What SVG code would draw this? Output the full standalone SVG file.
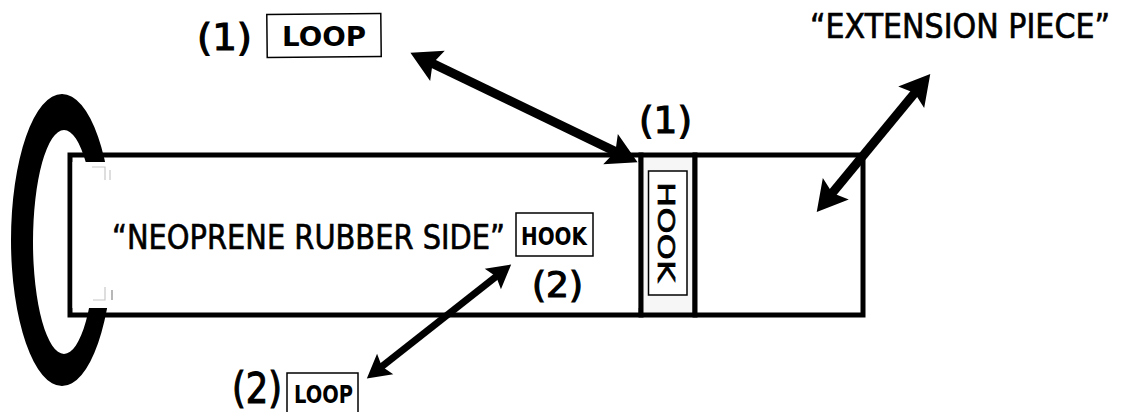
<svg xmlns="http://www.w3.org/2000/svg" width="1126" height="412" viewBox="0 0 1126 412">
<style>
.t{font-family:"DejaVu Sans","Liberation Sans",sans-serif;fill:#000}
.m{stroke:#000;stroke-width:0.7}
.h{stroke:#000;stroke-width:1.2}
.b{font-weight:bold}
.box{fill:#fff;stroke:#000;stroke-width:1.5}
.edge{fill:#fff;stroke:#000;stroke-width:5}
.arr{stroke:#000;fill:none;marker-start:url(#ah);marker-end:url(#ah)}
.faint{fill:none;stroke:#c8c8c8;stroke-width:1.2}
</style>
<defs>
<marker id="ah" markerUnits="strokeWidth" orient="auto-start-reverse" refX="0" refY="0" markerWidth="4" markerHeight="4" viewBox="-1 -1.5 3 3" overflow="visible">
<path d="M1.7,0 L-0.8,-1.4 L-0.35,0 L-0.8,1.4 Z" fill="#000"/>
</marker>
</defs>
<rect width="1126" height="412" fill="#fff"/>
<g id="strap">
<rect class="edge" x="70" y="155" width="571" height="160"/>
</g>
<g id="ring">
<path fill="#000" fill-rule="evenodd" d="M11,240 A51,146 0 1,0 113,240 A51,146 0 1,0 11,240 Z M33,242 A31,112 0 1,0 95,242 A31,112 0 1,0 33,242 Z"/>
<rect x="72.5" y="162" width="566" height="146" fill="#fff"/>
<path class="faint" d="M92,167 H105 V180 M110,170 V180 M105,287 V300 H93"/>
<path d="M112,290 V300" stroke="#888" stroke-width="1.2"/>
</g>
<g id="hook-strip">
<rect class="edge" x="641" y="155" width="54" height="160" style="fill:#f6f6f6"/>
<rect class="box" x="648.5" y="171" width="38.5" height="124"/>
<text class="t m" font-size="23" transform="translate(658,182) rotate(90)" textLength="100" lengthAdjust="spacingAndGlyphs">HOOK</text>
</g>
<g id="extension">
<rect class="edge" x="695" y="155" width="168" height="160"/>
</g>
<g id="label-loop1">
<text class="t h" x="197" y="50" font-size="38" textLength="55" lengthAdjust="spacingAndGlyphs">(1)</text>
<rect class="box" x="267" y="14" width="114" height="43" transform="rotate(-0.6 324 35)"/>
<text class="t b" x="282" y="46" font-size="26" textLength="84" lengthAdjust="spacingAndGlyphs">LOOP</text>
</g>
<g id="label-extension">
<text class="t m" x="810" y="38" font-size="34" textLength="300" lengthAdjust="spacingAndGlyphs">“EXTENSION PIECE”</text>
</g>
<g id="label-hook1">
<text class="t h" x="639" y="133" font-size="38" textLength="53" lengthAdjust="spacingAndGlyphs">(1)</text>
</g>
<g id="label-neoprene">
<text class="t m" x="112" y="249" font-size="34" textLength="393" lengthAdjust="spacingAndGlyphs">“NEOPRENE RUBBER SIDE”</text>
</g>
<g id="label-hook2">
<rect class="box" x="516" y="213" width="77" height="43"/>
<text class="t b" x="521" y="245" font-size="25" textLength="66" lengthAdjust="spacingAndGlyphs">HOOK</text>
<text class="t h" x="532" y="297" font-size="35" textLength="51" lengthAdjust="spacingAndGlyphs">(2)</text>
</g>
<g id="label-loop2">
<text class="t h" x="232" y="403" font-size="42" textLength="50" lengthAdjust="spacingAndGlyphs">(2)</text>
<rect class="box" x="287" y="373" width="71" height="40"/>
<text class="t b" x="294" y="403" font-size="25" textLength="59" lengthAdjust="spacingAndGlyphs">LOOP</text>
</g>
<g id="connectors">
<line class="arr" stroke-width="9" x1="428.8" y1="61.6" x2="619.2" y2="153.4"/>
<line class="arr" stroke-width="9" x1="917.3" y1="89.8" x2="829.7" y2="196.2"/>
<line class="arr" stroke-width="7" x1="498.7" y1="274.4" x2="379.3" y2="368.6"/>
</g>
</svg>
